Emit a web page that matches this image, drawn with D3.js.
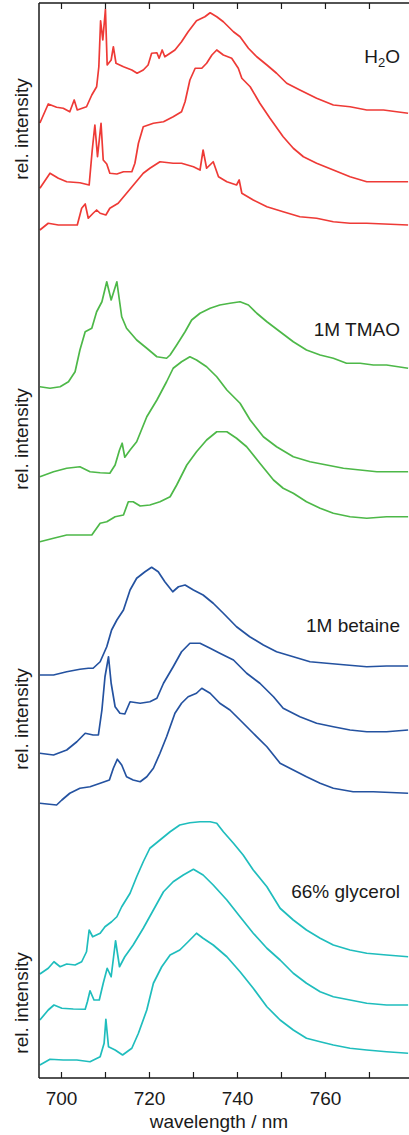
<!DOCTYPE html>
<html>
<head>
<meta charset="utf-8">
<script src="https://cdn.jsdelivr.net/npm/d3@7"></script>
<style>
  body { margin: 0; background: #fff; }
  svg text { font-family: "Liberation Sans", Arial, Helvetica, sans-serif; fill: #1a1a1a; }
</style>
</head>
<body>
<div id="chart"></div>
<script>
var svgWidth = 409, svgHeight = 1135;
var margin = { top: 3, right: 0, bottom: 57, left: 39 };
var width = svgWidth - margin.left - margin.right;
var height = svgHeight - margin.top - margin.bottom;

// x ticks
var majorTicks = [700, 720, 740, 760];
var minorTicks = [710, 730, 750, 770];

// panel labels / colours
var panelLabels = ["H2O", "1M TMAO", "1M betaine", "66% glycerol"];
var panelColors = ["#ee3a36", "#4db848", "#2452a0", "#1fbdbd"];

// spectra: [wavelength nm, stacked rel. intensity]
var h2o1 = [[695.2,382.0],[697.1,389.6],[699.0,388.3],[700.5,387.9],[702.0,386.5],[703.0,391.2],[703.7,387.2],[705.8,388.5],[707.0,393.2],[708.1,396.5],[708.6,404.5],[709.0,422.9],[709.5,415.2],[710.1,427.5],[710.5,405.2],[711.4,407.2],[711.9,412.5],[712.5,405.9],[714.2,404.5],[716.1,403.2],[717.3,401.9],[718.7,403.2],[719.8,405.2],[720.6,409.9],[721.8,410.1],[722.3,407.9],[723.0,411.2],[723.6,408.5],[724.8,409.9],[725.9,411.2],[727.4,414.5],[728.9,418.5],[730.8,422.9],[732.7,424.5],[733.9,426.1],[735.4,424.5],[736.9,422.5],[739.2,418.5],[740.7,416.5],[742.6,411.9],[744.5,408.5],[746.8,405.2],[749.0,401.9],[751.3,397.9],[754.3,395.2],[758.1,391.9],[761.9,389.2],[765.7,388.5],[769.5,387.2],[773.3,387.2],[778.9,385.9]];
var h2o2 = [[695.2,355.9],[697.5,361.9],[699.4,359.9],[701.3,358.5],[704.3,358.1],[706.4,357.2],[707.1,371.2],[707.7,381.2],[708.3,368.5],[709.1,381.9],[709.6,367.2],[710.4,365.6],[711.1,361.9],[712.7,361.6],[714.2,362.5],[716.1,362.5],[716.8,365.9],[717.6,373.9],[718.7,380.5],[721.0,381.9],[723.3,382.5],[725.5,384.5],[727.4,386.5],[728.2,390.5],[729.3,399.2],[730.5,403.9],[732.0,403.9],[733.1,405.9],[734.3,409.2],[735.4,411.2],[736.9,409.2],[738.8,407.9],[740.3,403.9],[741.1,399.9],[743.0,396.5],[745.2,389.9],[747.5,383.9],[750.5,376.5],[752.8,371.9],[755.1,368.5],[758.1,365.9],[761.9,363.2],[765.7,360.5],[769.5,358.5],[773.3,358.5],[778.9,358.5]];
var h2o3 = [[695.2,339.2],[697.1,341.9],[699.4,341.2],[701.7,341.2],[703.7,341.2],[704.7,347.9],[705.5,349.6],[706.2,343.9],[707.3,345.9],[708.1,347.2],[708.9,345.9],[710.2,345.2],[711.1,347.9],[713.0,349.9],[714.9,353.9],[716.8,357.9],[718.7,361.9],[720.2,363.9],[722.5,366.5],[725.5,365.9],[727.4,365.9],[730.1,364.5],[731.6,363.2],[732.3,371.2],[733.1,363.9],[734.6,366.5],[735.8,360.5],[737.7,358.5],[739.9,357.2],[740.5,359.2],[741.1,353.9],[743.7,351.2],[746.8,348.5],[750.5,346.5],[754.3,344.5],[758.1,343.9],[761.9,342.5],[765.7,341.9],[769.5,341.9],[778.9,341.2]];

var tmao1 = [[695.2,276.5],[697.5,275.9],[699.8,276.5],[701.7,278.5],[703.2,282.5],[704.3,291.2],[705.5,298.5],[707.0,299.9],[708.1,306.5],[709.3,310.5],[710.4,318.5],[711.4,311.2],[712.7,318.5],[713.8,304.5],[714.9,299.9],[717.2,295.2],[719.5,291.9],[721.8,288.5],[724.0,287.9],[724.8,289.2],[726.3,293.2],[728.2,298.5],[729.7,303.2],[731.6,305.9],[733.9,307.9],[736.1,309.2],[738.4,309.9],[740.7,310.5],[742.6,309.2],[744.5,305.9],[746.8,302.5],[749.8,298.5],[752.8,294.5],[755.8,291.2],[758.9,289.2],[761.9,287.9],[764.9,285.9],[768.0,285.9],[771.0,285.2],[774.0,285.2],[778.9,283.9]];
var tmao2 = [[695.2,240.5],[698.3,242.5],[701.3,243.9],[704.3,244.5],[706.6,242.5],[708.9,242.1],[711.1,241.9],[712.3,245.2],[713.3,251.2],[713.9,253.9],[714.5,248.3],[715.7,251.2],[717.2,254.5],[719.5,264.5],[721.8,271.2],[724.0,278.5],[725.5,283.9],[727.4,286.5],[729.3,288.5],[730.8,287.2],[733.1,284.5],[735.4,280.5],[737.7,275.2],[740.7,269.9],[743.0,263.2],[746.0,256.5],[749.0,252.5],[752.8,248.5],[756.6,246.5],[760.4,245.2],[764.2,243.9],[768.0,243.2],[771.8,242.5],[778.9,242.5]];
var tmao3 = [[695.2,214.5],[698.3,215.9],[701.3,217.2],[704.3,217.2],[707.0,217.2],[708.9,221.9],[710.4,222.5],[712.3,224.5],[714.2,225.2],[715.3,230.5],[716.4,230.5],[718.0,228.8],[720.2,229.2],[722.5,230.5],[724.8,232.5],[726.3,237.2],[728.6,245.2],[730.8,250.5],[733.1,255.2],[735.4,258.5],[737.7,258.5],[739.9,255.9],[742.2,252.5],[745.2,245.9],[748.3,239.2],[750.5,235.9],[752.8,233.9],[755.8,230.5],[758.9,227.9],[761.9,225.9],[765.7,224.5],[769.5,223.9],[774.0,224.5],[778.9,224.5]];

var bet1 = [[695.2,161.2],[698.3,161.2],[701.3,162.5],[704.3,163.5],[706.2,163.9],[707.3,163.9],[708.9,166.5],[710.4,172.5],[711.5,179.2],[712.7,183.2],[714.2,187.2],[715.7,195.2],[717.2,199.9],[719.1,202.5],[720.6,204.3],[722.1,202.5],[723.6,198.5],[725.4,194.5],[726.7,196.5],[728.2,197.2],[730.1,195.2],[732.3,193.2],[734.6,189.9],[736.9,185.9],[739.9,180.5],[742.9,176.5],[746.0,173.2],[749.0,170.5],[752.8,168.5],[756.6,166.5],[760.4,165.9],[764.9,165.2],[769.5,164.5],[774.0,164.8],[778.9,164.8]];
var bet2 = [[695.2,129.9],[698.3,129.2],[701.3,131.2],[703.6,134.5],[705.5,137.9],[707.3,137.2],[708.5,137.2],[709.3,147.2],[710.0,160.5],[710.8,168.5],[711.4,157.9],[712.3,148.5],[713.4,145.9],[714.5,145.6],[715.7,150.5],[718.0,149.9],[720.2,150.5],[721.8,151.9],[723.3,157.9],[725.5,164.5],[727.4,170.5],[729.3,173.9],[731.6,173.9],[733.9,171.9],[736.1,169.9],[739.2,167.2],[742.2,161.9],[745.2,157.9],[748.3,152.5],[750.5,147.9],[754.3,144.5],[758.1,141.9],[761.9,140.5],[765.7,139.2],[769.5,138.5],[774.0,138.5],[778.9,139.2]];
var bet3 = [[695.2,109.9],[699.0,109.2],[700.2,111.2],[702.0,113.9],[704.3,115.9],[706.6,116.5],[708.9,117.9],[711.0,119.2],[711.9,123.9],[712.8,127.5],[713.8,125.2],[714.9,120.5],[716.4,119.2],[718.0,118.5],[719.5,120.5],[721.0,123.9],[722.5,129.9],[724.0,136.5],[725.9,145.9],[727.4,149.9],[728.9,152.5],[730.8,153.9],[732.0,155.9],[733.9,153.9],[736.1,149.9],[738.4,147.2],[740.7,143.2],[743.7,137.9],[746.8,132.5],[749.8,125.9],[752.8,123.2],[755.8,120.5],[758.9,117.9],[761.9,115.9],[766.4,114.5],[771.0,114.5],[778.9,113.9]];

var gly1 = [[695.2,41.6],[697.1,43.9],[698.4,46.5],[699.8,44.5],[701.3,45.6],[703.2,45.2],[704.7,46.5],[705.8,50.5],[706.4,59.2],[707.2,56.5],[708.9,57.9],[710.0,60.5],[711.5,62.5],[712.7,64.5],[713.8,68.5],[715.7,73.9],[717.2,80.5],[718.7,86.5],[720.2,91.9],[722.5,95.2],[724.8,98.5],[727.0,101.2],[729.3,102.1],[731.6,102.5],[733.9,102.5],[735.4,101.9],[736.9,98.5],[739.2,93.9],[741.4,89.2],[743.7,83.2],[746.8,76.5],[749.8,67.9],[752.8,63.2],[755.8,59.2],[758.9,55.9],[761.9,53.2],[765.7,51.2],[769.5,49.9],[774.0,49.2],[778.9,48.5]];
var gly2 = [[695.2,23.2],[697.1,27.2],[698.4,29.2],[700.2,27.9],[702.8,27.6],[705.5,27.5],[706.0,30.5],[706.6,34.9],[707.5,31.2],[708.7,31.2],[709.6,37.9],[710.5,43.9],[711.4,40.5],[712.4,54.9],[713.3,44.5],[714.5,48.5],[716.4,53.2],[718.7,59.9],[721.0,67.2],[723.3,74.5],[725.5,78.5],[727.8,81.2],[730.1,83.5],[732.3,81.2],[734.6,77.2],[737.7,71.2],[740.7,64.5],[743.7,57.9],[746.8,51.9],[749.8,47.2],[752.8,41.9],[755.8,37.9],[758.9,34.5],[761.9,32.5],[765.7,31.2],[769.5,29.9],[774.0,29.2],[778.9,29.2]];
var gly3 = [[695.2,5.2],[697.5,7.5],[700.5,7.2],[703.6,7.2],[706.6,6.5],[708.9,8.5],[709.8,13.9],[710.2,23.5],[710.8,12.5],[712.3,11.2],[714.0,9.2],[716.1,11.9],[717.6,17.9],[719.5,27.2],[721.0,37.9],[722.9,44.5],[724.8,49.2],[727.0,51.2],[728.9,54.5],[730.8,57.9],[732.3,55.9],[734.6,53.2],[737.7,48.5],[740.7,42.5],[743.7,35.9],[746.8,28.5],[749.8,23.2],[752.8,19.2],[755.8,15.9],[758.9,14.5],[761.9,13.2],[765.7,11.9],[769.5,11.2],[774.0,10.5],[778.9,9.9]];

var panels = [[h2o1, h2o2, h2o3], [tmao1, tmao2, tmao3], [bet1, bet2, bet3], [gly1, gly2, gly3]];

var svg = d3.select('#chart').append("svg")
    .attr("width", svgWidth)
    .attr("height", svgHeight)
    .append("g")
    .attr("transform", "translate(" + margin.left + "," + margin.top + ")");

var xScale = d3.scaleLinear().domain([695, 779.1]).range([0, width]);
var yScale = d3.scaleLinear().domain([0, 430]).range([height, 0]);

// spectra
var line = d3.line()
    .x(function(d) { return xScale(d[0]); })
    .y(function(d) { return yScale(d[1]); });

panels.forEach(function(curves, p) {
    curves.forEach(function(c) {
        svg.append("path")
            .datum(c)
            .attr("fill", "none")
            .attr("stroke", panelColors[p])
            .attr("stroke-width", 1.7)
            .attr("stroke-linejoin", "round")
            .attr("d", line);
    });
});

// axes
var allTicks = majorTicks.concat(minorTicks);
var bottomAxis = svg.append("g")
    .attr("transform", "translate(0," + height + ")")
    .call(d3.axisBottom(xScale).tickValues(allTicks).tickSize(-6).tickPadding(14)
        .tickFormat(function(d) { return majorTicks.indexOf(d) >= 0 ? d : ""; }));
var topAxis = svg.append("g")
    .call(d3.axisTop(xScale).tickValues(allTicks).tickSize(-6).tickFormat(""));

svg.selectAll('.domain')
    .attr("d", null);
svg.selectAll('.tick line')
    .style('stroke', '#1a1a1a')
    .style('stroke-width', '1.2px');
bottomAxis.selectAll('.tick text')
    .style('font-size', '19px')
    .style('font-family', '"Liberation Sans", Arial, sans-serif')
    .attr('fill', '#1a1a1a');

// frame lines: top, left, bottom
svg.append("line").attr("x1", 0).attr("x2", width).attr("y1", 0).attr("y2", 0)
    .attr("stroke", "#1a1a1a").attr("stroke-width", 1.5);
svg.append("line").attr("x1", 0).attr("x2", width).attr("y1", height).attr("y2", height)
    .attr("stroke", "#1a1a1a").attr("stroke-width", 1.5);
svg.append("line").attr("x1", 0).attr("x2", 0).attr("y1", 0).attr("y2", height)
    .attr("stroke", "#1a1a1a").attr("stroke-width", 1.5);

// x label
svg.append("text")
    .attr("x", xScale(735.9))
    .attr("y", height + 50)
    .attr("text-anchor", "middle")
    .style("font-size", "19px")
    .text("wavelength / nm");

// y labels, one per panel
var yLabelCenters = [129, 439, 719, 1003];
yLabelCenters.forEach(function(cy) {
    svg.append("text")
        .attr("transform", "translate(" + (-11) + "," + (cy - margin.top) + ") rotate(-90)")
        .attr("text-anchor", "middle")
        .style("font-size", "19px")
        .text("rel. intensity");
});

// panel labels
var labelBaselines = [63, 336, 632, 898];
panelLabels.forEach(function(lbl, i) {
    var t = svg.append("text")
        .attr("x", 361)
        .attr("y", labelBaselines[i] - margin.top)
        .attr("text-anchor", "end")
        .style("font-size", "19px");
    if (lbl === "H2O") {
        t.append("tspan").text("H");
        t.append("tspan").attr("dy", 4).style("font-size", "13px").text("2");
        t.append("tspan").attr("dy", -4).text("O");
    } else {
        t.text(lbl);
    }
});
</script>
</body>
</html>
